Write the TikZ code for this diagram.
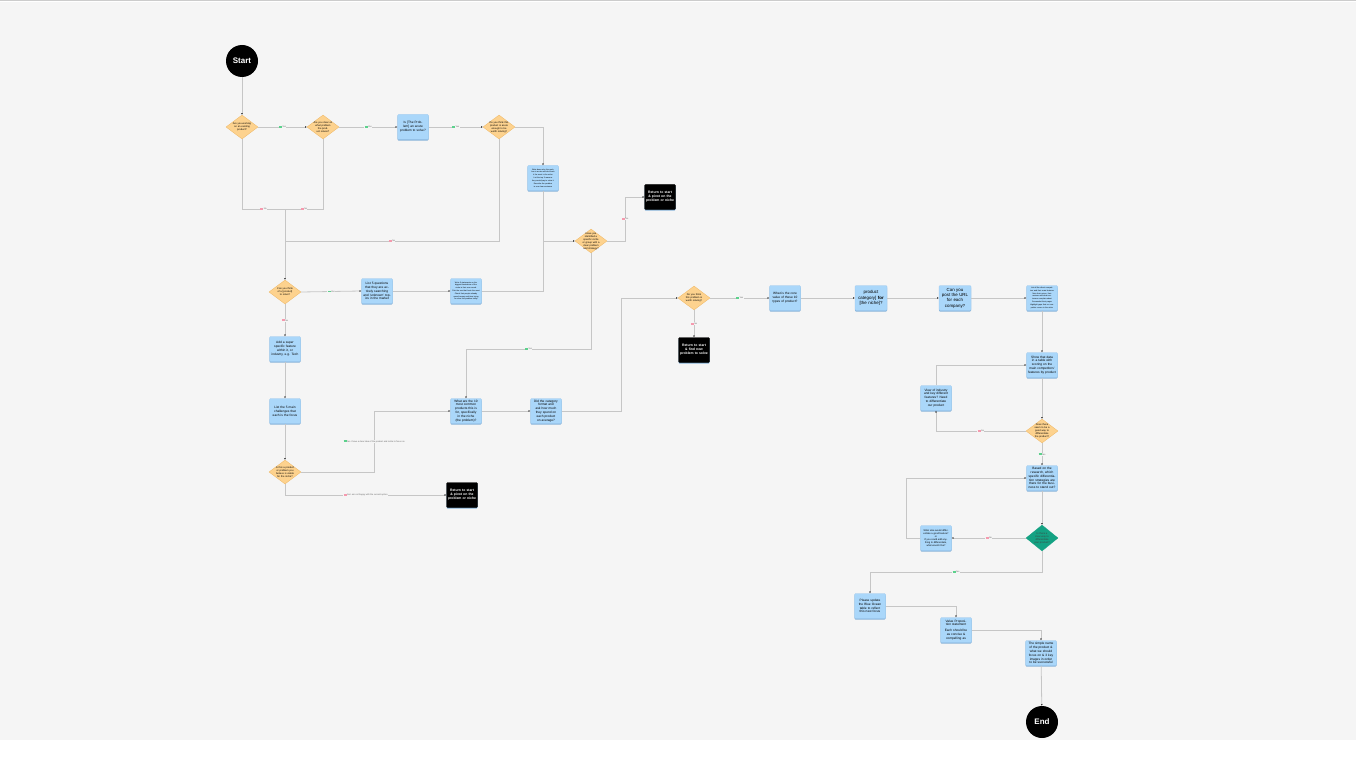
\documentclass[tikz,border=0pt]{standalone}
\usepackage{fontspec}
\setmainfont{Liberation Sans}
\usetikzlibrary{shapes.geometric,shadows,arrows.meta}

\definecolor{canvas}{HTML}{F5F5F5}
\definecolor{linegray}{HTML}{C6C6C6}
\definecolor{boxblue}{HTML}{AAD7FA}
\definecolor{boxedge}{HTML}{96C4EC}
\definecolor{boxshade}{HTML}{86B2D8}
\definecolor{diafill}{HTML}{FDD28E}
\definecolor{diaedge}{HTML}{EFB764}
\definecolor{teal}{HTML}{14A283}
\definecolor{yesgreen}{HTML}{5CD18C}
\definecolor{nopink}{HTML}{F59AAE}

\newcommand\tinytext{\fontsize{3.2}{3.9}\selectfont}
\newcommand\dtinytext{\fontsize{2.5}{3}\selectfont}
\newcommand\yestag{{\color{yesgreen}\rule{3pt}{1.7pt}}\,}
\newcommand\notag{{\color{nopink}\rule{3pt}{1.7pt}}\,}

\tikzset{
  flowline/.style={draw=linegray, line width=0.8pt},
  arr/.style={flowline, -{Latex[length=1.8pt,width=1.8pt,color=black!80]}},
  stepbox/.style={rectangle, rounded corners=1pt, fill=boxblue, draw=boxedge,
    line width=0.3pt, minimum width=31pt, minimum height=25pt, text width=28pt,
    align=center, inner sep=1pt, font=\tinytext,
    drop shadow={shadow xshift=0pt, shadow yshift=-1.2pt, fill=boxshade, opacity=1}},
  stopbox/.style={stepbox, fill=black, draw=black, text=white,
    font=\fontsize{3.4}{4.1}\selectfont\bfseries, drop shadow={opacity=0}},
  decision/.style={diamond, fill=diafill, draw=diaedge, line width=0.3pt,
    minimum width=32pt, minimum height=24pt, inner sep=0pt},
  dtext/.style={text width=19pt, align=center, font=\dtinytext, inner sep=0pt},
  terminal/.style={circle, fill=black, text=white, minimum size=32pt,
    inner sep=0pt, font=\fontsize{8}{9}\selectfont\bfseries},
  yeslab/.style={fill=canvas, inner sep=0.4pt, text=black!60,
    font=\fontsize{2.2}{2.4}\selectfont},
  nolab/.style={yeslab},
}

\begin{document}
\begin{tikzpicture}[x=1pt,y=-1pt]
  \useasboundingbox (0,0) rectangle (1356,762);
  \fill [canvas] (0,2) rectangle (1356,740);
  \draw [black!20,line width=1pt] (0,0.5) -- (1356,0.5);

  % first column: is there a product and a problem
  \node [terminal] (start) at (242,61) {Start};
  \node [decision,label={[dtext]center:{Are you working on an existing product?}}] (d1) at (242,127) {};
  \node [decision,label={[dtext]center:{Are you clear on what problem the product solves?}}] (d2) at (323,127) {};
  \node [stepbox] (b1) at (413,127) {Is [The Problem] an acute problem to solve?};
  \node [decision,label={[dtext]center:{Do you think this product is acute enough to be worth solving?}}] (d3) at (499,127) {};
  \node [stepbox,font=\fontsize{1.9}{2.6}\selectfont] (b2) at (543,178) {Write down why the problem is acute and who feels it the most in the niche\\[0.6pt] List the top 3 reasons they would pay to solve it\\[0.6pt] Describe the problem in one clear sentence};
  \node [stopbox] (r1) at (660,197) {Return to start \& pivot on the problem or niche};
  \node [decision,label={[dtext]center:{Have you identified a specific niche or group with a clear problem and strategy?}}] (d4) at (591,241) {};

  % finding a problem
  \node [decision,label={[dtext]center:{Can you think of a [product] to solve?}}] (d5) at (285,292) {};
  \node [stepbox] (b3) at (377,291) {List 5 questions that they are actively searching and 'unknown' topics in the market};
  \node [stepbox,font=\fontsize{1.9}{2.6}\selectfont] (b4) at (466,291) {Write 3 statements on the biggest frustrations of the niche in their own words\\[0.6pt] Pick the one that hurts the most\\[0.6pt] Check that people already spend money and time trying to solve this problem today};
  \node [stepbox] (b16) at (285,349) {Add a super specific feature within it, or industry, e.g. Tech};
  \node [stepbox] (b17) at (285,411) {List the 5 main challenges that each is the focus};
  \node [decision,label={[dtext]center:{Is this a product or problem you believe is viable for the niche?}}] (d9) at (285,472) {};
  \node [stopbox] (r3) at (462,495) {Return to start \& pivot on the problem or niche};
  \node [stepbox] (b18) at (466,411) {What are the 10 most common products this is for, specifically in the niche (the problem)?};
  \node [stepbox] (b19) at (546,411) {Did the category format and ask how much they spend on each product on average?};

  % market research row
  \node [decision,label={[dtext]center:{Do you think this problem is worth solving?}}] (d6) at (694,298) {};
  \node [stopbox] (r2) at (694,350) {Return to start \& find new problem to solve};
  \node [stepbox] (b5) at (785,298) {What is the core value of these 10 types of product?};
  \node [stepbox,font=\fontsize{4.4}{5.3}\selectfont,text width=30pt] (b6) at (871,298) {product category] \textbf{for} [the niche]?};
  \node [stepbox,font=\fontsize{4.4}{5.3}\selectfont,text width=30pt] (b7) at (955,298) {Can you post the URL for each company?};
  \node [stepbox,font=\fontsize{1.9}{2.6}\selectfont] (b8) at (1042,298) {List all the direct competitors and their main features\\[0.6pt] Note their prices, their reviews and what customers complain about\\[0.6pt] Screenshot their pages\\[0.6pt] Highlight gaps that no competitor covers in the niche};

  % differentiation column
  \node [stepbox] (b9) at (1042,365) {Show that data in a table with scoring on the main competitors' features by product};
  \node [stepbox] (b10) at (936,398) {View of industry and key different features? Need to differentiate our product};
  \node [decision,label={[dtext]center:{Does there seem to be a good way to differentiate the product?}}] (d7) at (1042,431) {};
  \node [stepbox] (b11) at (1042,478) {Based on the research, which specific differentiation strategies are there for the business to stand out?};
  \node [decision,fill=teal,draw=teal,minimum height=26pt,label={[dtext,text=black!75]center:{Is there a clear way to differentiate your product?}}] (d8) at (1042,538) {};
  \node [stepbox,font=\fontsize{2.4}{3}\selectfont] (b12) at (936,538) {What else would differentiate a good feature?\\ or\\ If you could add anything to differentiate, what would it be?};
  \node [stepbox] (b13) at (870,606) {Please update the Blue Ocean table to reflect this new focus};
  \node [stepbox] (b14) at (956,630) {Value Proposition statement\\[2pt] Each should be as concise \& compelling as};
  \node [stepbox] (b15) at (1041,653) {The simple name of the product \& what we should focus on \& 3 key images in order to be successful};
  \node [terminal] (end) at (1042,722) {End};

  % connectors, top row
  \draw [arr] (start) -- (d1);
  \draw [arr] (d1.east) -- node [yeslab] {\yestag Yes} (d2.west);
  \draw [arr] (d2.east) -- node [yeslab] {\yestag Yes} (b1.west);
  \draw [arr] (b1.east) -- node [yeslab] {\yestag Yes} (d3.west);
  \draw [arr] (d3.east) -| (b2.north);
  \coordinate (joinA) at (285,209);
  \coordinate (joinB) at (285,241);
  \coordinate (joinD) at (543,241);
  \draw [flowline] (d1.south) |- node [nolab,pos=0.75] {\notag No} (joinA);
  \draw [flowline] (d2.south) |- node [nolab,pos=0.75] {\notag No} (joinA);
  \draw [flowline] (d3.south) |- node [nolab,pos=0.75] {\notag No} (joinB);
  \draw [arr] (joinA) -- (d5.north);
  \draw [arr] (b2.south) |- (d4.west);
  \draw [flowline] (b4.east) -| (joinD);
  \draw [arr] (d4.east) -- ++(18,0) |- node [nolab,pos=0.25] {\notag No} (r1.west);
  \draw [arr] (d4.south) -- ++(0,96) -| node [yeslab,pos=0.25] {\yestag Yes} (b18.north);

  % connectors, left column
  \draw [arr] (d5.east) -- node [yeslab] {\yestag Yes} (b3.west);
  \draw [arr] (b3.east) -- (b4.west);
  \draw [arr] (d5.south) -- node [nolab] {\notag No} (b16.north);
  \draw [arr] (b16) -- (b17);
  \draw [arr] (b17) -- (d9);
  \draw [arr] (d9.east) -- ++(73,0) |- node [yeslab,pos=0.25] {\yestag Yes I have a clear idea of the product and niche to focus on} (b18.west);
  \draw [arr] (d9.south) |- node [nolab,pos=0.75] {\notag No I am not happy with the current option} (r3.west);
  \draw [arr] (b18) -- (b19);
  \draw [arr] (b19.east) -- ++(60,0) |- (d6.west);

  % connectors, research row
  \draw [arr] (d6.east) -- node [yeslab] {\yestag Yes} (b5.west);
  \draw [arr] (d6.south) -- node [nolab] {\notag No} (r2.north);
  \draw [arr] (b5) -- (b6);
  \draw [arr] (b6) -- (b7);
  \draw [arr] (b7) -- (b8);
  \draw [arr] (b8) -- (b9);

  % connectors, differentiation
  \draw [arr] (b9) -- (d7);
  \draw [arr] (b10.north) |- (b9.west);
  \draw [arr] (d7.west) -| node [nolab,pos=0.25] {\notag No} (b10.south);
  \draw [arr] (d7.south) -- node [yeslab] {\yestag Yes} (b11.north);
  \draw [arr] (b11) -- (d8);
  \draw [arr] (d8.west) -- node [nolab] {\notag No} (b12.east);
  \draw [arr] (b12.west) -- ++(-14,0) |- (b11.west);
  \draw [arr] (d8.south) -- ++(0,21) -| node [yeslab,pos=0.25] {\yestag Yes} (b13.north);
  \draw [arr] (b13.east) -| (b14.north);
  \draw [arr] (b14.east) -| (b15.north);
  \draw [arr] (b15) -- (end);
\end{tikzpicture}
\end{document}
